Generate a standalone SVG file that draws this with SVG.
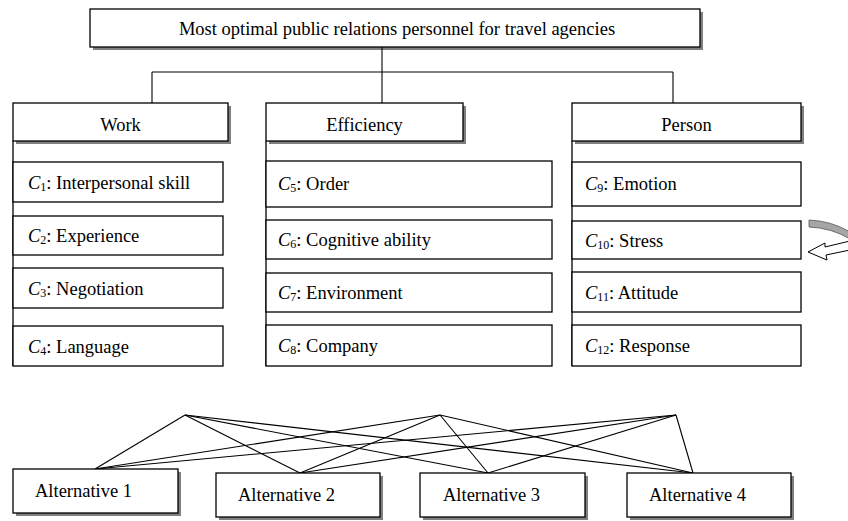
<svg xmlns="http://www.w3.org/2000/svg" width="848" height="521" viewBox="0 0 848 521">
<style>
  .box { fill: #ffffff; stroke: #000000; stroke-width: 1.3; }
  .shadow { fill: #808080; }
  .t { font-family: "Liberation Serif", "Times New Roman", serif; font-size: 18.5px; fill: #000000; }
  .c { text-anchor: middle; }
  .i { font-style: italic; }
  .sub { font-size: 12px; }
  .ln { stroke: #000000; stroke-width: 1.1; fill: none; }
</style>
<rect width="848" height="521" fill="#ffffff"/>

<g id="goal">
  <rect class="shadow" x="93" y="12" width="610" height="38"/>
  <rect class="box" x="90" y="9" width="610" height="38"/>
  <text class="t c" x="397" y="34.5">Most optimal public relations personnel for travel agencies</text>
</g>

<g id="connectors">
  <line class="ln" x1="382" y1="47" x2="382" y2="103"/>
  <line class="ln" x1="152" y1="72" x2="673" y2="72"/>
  <line class="ln" x1="152" y1="72" x2="152" y2="103"/>
  <line class="ln" x1="673" y1="72" x2="673" y2="103"/>
  <!-- fan from apexes to alternatives -->
  <line class="ln" x1="185" y1="415" x2="95" y2="469"/>
  <line class="ln" x1="185" y1="415" x2="300" y2="473"/>
  <line class="ln" x1="185" y1="415" x2="488" y2="473"/>
  <line class="ln" x1="185" y1="415" x2="693" y2="473"/>
  <line class="ln" x1="440" y1="415" x2="95" y2="469"/>
  <line class="ln" x1="440" y1="415" x2="300" y2="473"/>
  <line class="ln" x1="440" y1="415" x2="488" y2="473"/>
  <line class="ln" x1="440" y1="415" x2="693" y2="473"/>
  <line class="ln" x1="676" y1="415" x2="95" y2="469"/>
  <line class="ln" x1="676" y1="415" x2="300" y2="473"/>
  <line class="ln" x1="676" y1="415" x2="488" y2="473"/>
  <line class="ln" x1="676" y1="415" x2="693" y2="473"/>
</g>

<g id="work">
  <rect class="shadow" x="16" y="106" width="215" height="38"/>
  <rect class="box" x="13" y="103" width="215" height="38"/>
  <text class="t c" x="120.5" y="131">Work</text>
  <line class="ln" x1="13" y1="141" x2="13" y2="366" style="stroke-width:1.3"/>
</g>
<g id="c1">
  <rect class="box" x="13" y="162" width="210" height="40"/>
  <text class="t" x="28" y="188.5"><tspan class="i">C</tspan><tspan class="sub" dy="2">1</tspan><tspan dy="-2">: Interpersonal skill</tspan></text>
</g>
<g id="c2">
  <rect class="box" x="13" y="216" width="210" height="39"/>
  <text class="t" x="28" y="242"><tspan class="i">C</tspan><tspan class="sub" dy="2">2</tspan><tspan dy="-2">: Experience</tspan></text>
</g>
<g id="c3">
  <rect class="box" x="13" y="268" width="210" height="40"/>
  <text class="t" x="28" y="294.5"><tspan class="i">C</tspan><tspan class="sub" dy="2">3</tspan><tspan dy="-2">: Negotiation</tspan></text>
</g>
<g id="c4">
  <rect class="box" x="13" y="326" width="210" height="40"/>
  <text class="t" x="28" y="352.5"><tspan class="i">C</tspan><tspan class="sub" dy="2">4</tspan><tspan dy="-2">: Language</tspan></text>
</g>

<g id="efficiency">
  <rect class="shadow" x="269" y="106" width="197" height="38"/>
  <rect class="box" x="266" y="103" width="197" height="38"/>
  <text class="t c" x="364.5" y="131">Efficiency</text>
  <line class="ln" x1="266" y1="141" x2="266" y2="366" style="stroke-width:1.3"/>
</g>
<g id="c5">
  <rect class="box" x="266" y="161" width="286" height="46"/>
  <text class="t" x="278" y="190"><tspan class="i">C</tspan><tspan class="sub" dy="2">5</tspan><tspan dy="-2">: Order</tspan></text>
</g>
<g id="c6">
  <rect class="box" x="266" y="220" width="286" height="39"/>
  <text class="t" x="278" y="246"><tspan class="i">C</tspan><tspan class="sub" dy="2">6</tspan><tspan dy="-2">: Cognitive ability</tspan></text>
</g>
<g id="c7">
  <rect class="box" x="266" y="273" width="286" height="39"/>
  <text class="t" x="278" y="299"><tspan class="i">C</tspan><tspan class="sub" dy="2">7</tspan><tspan dy="-2">: Environment</tspan></text>
</g>
<g id="c8">
  <rect class="box" x="266" y="325" width="286" height="41"/>
  <text class="t" x="278" y="352"><tspan class="i">C</tspan><tspan class="sub" dy="2">8</tspan><tspan dy="-2">: Company</tspan></text>
</g>

<g id="person">
  <rect class="shadow" x="575" y="106" width="229" height="38"/>
  <rect class="box" x="572" y="103" width="229" height="38"/>
  <text class="t c" x="686.5" y="131">Person</text>
  <line class="ln" x1="572" y1="141" x2="572" y2="366" style="stroke-width:1.3"/>
</g>
<g id="c9">
  <rect class="box" x="572" y="162" width="229" height="44"/>
  <text class="t" x="585" y="190"><tspan class="i">C</tspan><tspan class="sub" dy="2">9</tspan><tspan dy="-2">: Emotion</tspan></text>
</g>
<g id="c10">
  <rect class="box" x="572" y="221" width="229" height="38"/>
  <text class="t" x="585" y="246.5"><tspan class="i">C</tspan><tspan class="sub" dy="2">10</tspan><tspan dy="-2">: Stress</tspan></text>
</g>
<g id="c11">
  <rect class="box" x="572" y="272" width="229" height="40"/>
  <text class="t" x="585" y="298.5"><tspan class="i">C</tspan><tspan class="sub" dy="2">11</tspan><tspan dy="-2">: Attitude</tspan></text>
</g>
<g id="c12">
  <rect class="box" x="572" y="325" width="229" height="41"/>
  <text class="t" x="585" y="352"><tspan class="i">C</tspan><tspan class="sub" dy="2">12</tspan><tspan dy="-2">: Response</tspan></text>
</g>

<g id="cycle-arrow">
  <path d="M809,220 Q832,221 850,232 L850,239 Q832,228 809,227 Z" fill="#a6a6a6" stroke="#555555" stroke-width="0.8"/>
  <path d="M808,252 L825,243 L825,247 L850,241 L850,250 L826,255 L827,260 Z" fill="#ffffff" stroke="#000000" stroke-width="1"/>
</g>

<g id="alt1">
  <rect class="shadow" x="16" y="472" width="165" height="44"/>
  <rect class="box" x="13" y="469" width="165" height="44"/>
  <text class="t" x="35" y="497">Alternative 1</text>
</g>
<g id="alt2">
  <rect class="shadow" x="219" y="476" width="164" height="44"/>
  <rect class="box" x="216" y="473" width="164" height="44"/>
  <text class="t" x="238" y="501">Alternative 2</text>
</g>
<g id="alt3">
  <rect class="shadow" x="423" y="476" width="165" height="44"/>
  <rect class="box" x="420" y="473" width="165" height="44"/>
  <text class="t" x="443" y="501">Alternative 3</text>
</g>
<g id="alt4">
  <rect class="shadow" x="630" y="476" width="164" height="44"/>
  <rect class="box" x="627" y="473" width="164" height="44"/>
  <text class="t" x="649" y="501">Alternative 4</text>
</g>
</svg>
